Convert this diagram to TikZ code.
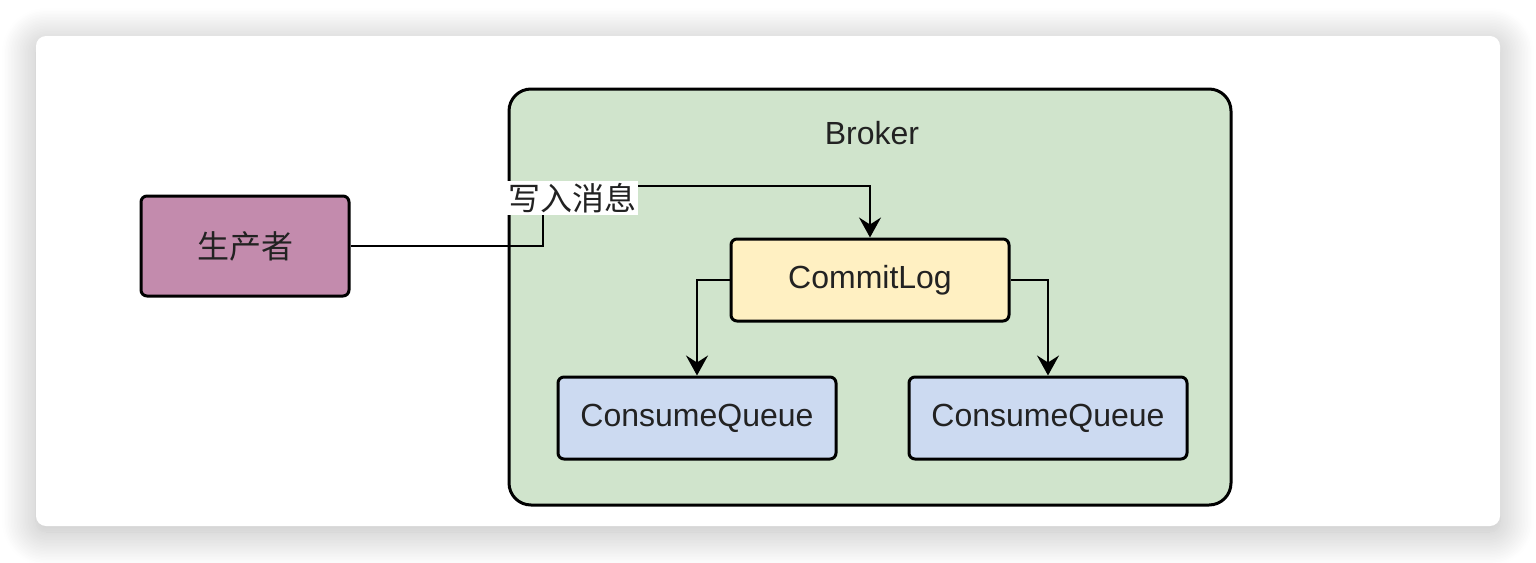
\documentclass[tikz,border=0pt]{standalone}
\usepackage{fontspec}
\setmainfont{Liberation Sans}
\newfontfamily\cjk{Noto Sans CJK SC}
\usepackage{tikz}
\usetikzlibrary{arrows.meta,positioning,shadows.blur}

\definecolor{txtgray}{HTML}{222222}
\definecolor{prodpink}{HTML}{C38BAD}
\definecolor{brokergreen}{HTML}{D0E4CC}
\definecolor{logyellow}{HTML}{FFF0C2}
\definecolor{queueblue}{HTML}{CCDAF1}

\tikzset{
  box/.style={draw=black, line width=1.5pt, rounded corners=3pt, text=txtgray,
    minimum width=139pt, minimum height=41pt, font=\fontsize{16}{18}\selectfont},
  link/.style={draw=black, line width=1pt},
}

\begin{document}
\begin{tikzpicture}[>={Stealth[length=10pt,width=11pt,inset=3.5pt]},x=0.5pt,y=-0.5pt]
\useasboundingbox (0,0) rectangle (1536,562);

% White card with soft shadow
\fill[white, rounded corners=5pt,
  blur shadow={shadow xshift=0pt, shadow yshift=-3pt, shadow blur radius=17pt,
    shadow opacity=28, shadow blur steps=24}] (36,36) rectangle (1500,526);

% Broker container
\node[draw=black, line width=1.5pt, fill=brokergreen, rounded corners=11pt,
  minimum width=361pt, minimum height=208pt] (broker) at (870,297) {};
\node[text=txtgray, font=\fontsize{16}{18}\selectfont] (brokerlbl) at (872,133) {Broker};

% Producer
\node[box, fill=prodpink, minimum width=104pt, minimum height=50pt] (prod) at (245,246) {\cjk 生产者};

% CommitLog and the two queues
\node[box, fill=logyellow] (commit) at (870,280) {CommitLog};
\node[box, fill=queueblue] (cqL) at (697,418) {ConsumeQueue};
\node[box, fill=queueblue] (cqR) at (1048,418) {ConsumeQueue};

% Producer writes into CommitLog
\coordinate (bend) at (543,186);
\draw[link,->] (prod.east) -| (bend) -| (commit.north);
\node[fill=white, inner sep=1pt, text=txtgray, font=\cjk\fontsize{16}{18}\selectfont] (write) at (572,198) {写入消息};

% CommitLog feeds the queues
\draw[link,->] (commit.west) -| (cqL.north);
\draw[link,->] (commit.east) -| (cqR.north);

\end{tikzpicture}
\end{document}
